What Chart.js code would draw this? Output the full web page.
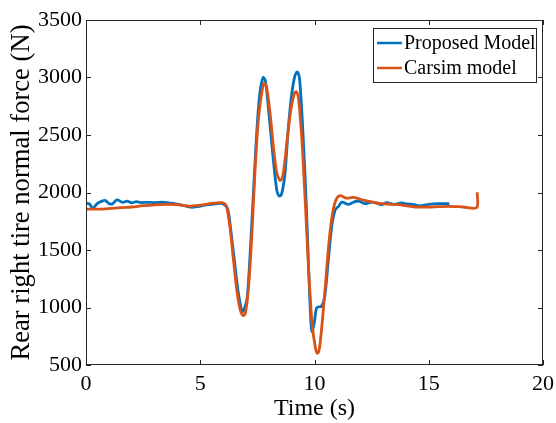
<!DOCTYPE html>
<html>
<head>
<meta charset="utf-8">
<script src="https://cdn.jsdelivr.net/npm/chart.js@4.4.1/dist/chart.umd.min.js"></script>
<style>
  html, body { margin: 0; padding: 0; background: #fff; }
  #wrap { width: 556px; height: 423px; }
</style>
</head>
<body>
<div id="wrap"><canvas id="graphique" width="556" height="423"></canvas></div>
<script>
// valeurs
var tempsProposed = [0, 0.15, 0.3, 0.5, 0.7, 0.85, 1.0, 1.15, 1.35, 1.6, 1.8, 2.0, 2.2, 2.4, 2.6, 3.0, 3.4, 3.8, 4.2, 4.6, 4.9, 5.2, 5.6, 5.9, 6.05, 6.2, 6.35, 6.5, 6.65, 6.8, 6.87, 6.95, 7.05, 7.15, 7.3, 7.45, 7.6, 7.75, 7.85, 8.0, 8.2, 8.35, 8.45, 8.55, 8.7, 8.85, 9.0, 9.15, 9.25, 9.35, 9.5, 9.65, 9.75, 9.85, 9.9, 10.0, 10.1, 10.3, 10.45, 10.6, 10.75, 10.9, 11.05, 11.2, 11.48, 11.7, 11.92, 12.2, 12.5, 12.75, 12.94, 13.15, 13.5, 13.8, 14.05, 14.3, 14.6, 14.8, 15.0, 15.4, 15.9];
var forceProposed = [1906, 1900, 1865, 1905, 1925, 1930, 1905, 1900, 1935, 1915, 1925, 1910, 1920, 1912, 1915, 1912, 1915, 1905, 1890, 1872, 1878, 1890, 1900, 1905, 1895, 1860, 1650, 1400, 1150, 985, 965, 1000, 1080, 1350, 1900, 2450, 2850, 3000, 2970, 2700, 2280, 2020, 1970, 1980, 2150, 2550, 2850, 3020, 3048, 2980, 2500, 1850, 1300, 850, 790, 880, 1000, 1010, 1100, 1400, 1700, 1846, 1880, 1917, 1897, 1915, 1926, 1903, 1917, 1905, 1894, 1911, 1897, 1909, 1900, 1897, 1883, 1890, 1897, 1903, 1903];

var tempsCarsim = [0, 0.5, 1.0, 1.5, 2.0, 2.5, 3.0, 3.5, 4.0, 4.5, 5.0, 5.5, 5.9, 6.05, 6.15, 6.3, 6.45, 6.6, 6.75, 6.87, 6.97, 7.1, 7.25, 7.4, 7.55, 7.7, 7.8, 7.9, 8.05, 8.2, 8.35, 8.5, 8.62, 8.8, 8.95, 9.1, 9.2, 9.3, 9.45, 9.6, 9.75, 9.9, 10.05, 10.13, 10.22, 10.35, 10.5, 10.65, 10.8, 10.95, 11.12, 11.4, 11.7, 12.2, 12.6, 12.94, 13.3, 13.7, 14.0, 14.4, 15.1, 15.85, 16.5, 17.1, 17.12];
var forceCarsim = [1855, 1855, 1860, 1868, 1874, 1885, 1893, 1897, 1895, 1882, 1890, 1905, 1912, 1905, 1880, 1700, 1420, 1150, 980, 930, 945, 1150, 1600, 2200, 2650, 2880, 2950, 2920, 2700, 2400, 2170, 2103, 2150, 2450, 2700, 2850, 2877, 2820, 2450, 1900, 1300, 850, 640, 602, 650, 900, 1250, 1600, 1830, 1940, 1972, 1951, 1957, 1931, 1915, 1903, 1898, 1894, 1885, 1874, 1874, 1880, 1874, 1869, 2002];

var ticksX = [0, 5, 10, 15, 20];
var ticksY = [500, 1000, 1500, 2000, 2500, 3000, 3500];
var nomsSeries = ['Proposed Model', 'Carsim model'];

function points(xs, ys) {
  return xs.map(function(x, i) { return { x: x, y: ys[i] }; });
}

var couleurAxe = '#262626';
var police = 'Liberation Serif, Times New Roman, serif';

// cadre, graduations vers l'intérieur et légende façon MATLAB
var cadreMatlab = {
  id: 'cadreMatlab',
  afterDatasetsDraw: function(chart) {
    var ctx = chart.ctx;
    var a = chart.chartArea;
    var sx = chart.scales.x, sy = chart.scales.y;
    ctx.save();
    ctx.strokeStyle = couleurAxe;
    ctx.lineWidth = 1;
    ctx.strokeRect(a.left + 0.5, a.top + 0.5, a.right - a.left - 1, a.bottom - a.top - 1);
    ctx.beginPath();
    ticksX.forEach(function(v) {
      var px = Math.round(sx.getPixelForValue(v)) + 0.5;
      ctx.moveTo(px, a.bottom); ctx.lineTo(px, a.bottom - 5);
      ctx.moveTo(px, a.top); ctx.lineTo(px, a.top + 5);
    });
    ticksY.forEach(function(v) {
      var py = Math.round(sy.getPixelForValue(v)) + 0.5;
      ctx.moveTo(a.left, py); ctx.lineTo(a.left + 5, py);
      ctx.moveTo(a.right, py); ctx.lineTo(a.right - 5, py);
    });
    ctx.stroke();

    // légende
    var bx = 373, by = 28, bw = 163, bh = 54;
    ctx.fillStyle = '#fff';
    ctx.fillRect(bx, by, bw, bh);
    ctx.strokeRect(bx + 0.5, by + 0.5, bw, bh);
    ctx.font = '20px ' + police;
    ctx.textBaseline = 'middle';
    chart.data.datasets.forEach(function(ds, i) {
      var yy = by + 15 + i * 25;
      ctx.strokeStyle = ds.borderColor;
      ctx.lineWidth = 2.5;
      ctx.beginPath();
      ctx.moveTo(bx + 4, yy); ctx.lineTo(bx + 29, yy);
      ctx.stroke();
      ctx.fillStyle = '#000';
      ctx.fillText(ds.label, bx + 31, yy + 1);
    });
    ctx.restore();
  }
};

var ctx = document.getElementById('graphique').getContext('2d');
var chart = new Chart(ctx, {
  type: 'scatter',
  data: {
    datasets: [{
      label: nomsSeries[0],
      data: points(tempsProposed, forceProposed),
      borderColor: '#0072BD',
      borderWidth: 2.8,
      showLine: true,
      pointRadius: 0,
      tension: 0.3,
      order: 1
    }, {
      label: nomsSeries[1],
      data: points(tempsCarsim, forceCarsim),
      borderColor: '#D95319',
      borderWidth: 2.8,
      showLine: true,
      pointRadius: 0,
      tension: 0.3,
      order: 0
    }]
  },
  options: {
    responsive: false,
    animation: false,
    layout: { padding: { top: 20, right: 13, left: 0, bottom: 0 } },
    plugins: { legend: { display: false }, tooltip: { enabled: false } },
    scales: {
      x: {
        type: 'linear',
        min: 0, max: 20,
        afterBuildTicks: function(s) { s.ticks = ticksX.map(function(v) { return { value: v }; }); },
        afterFit: function(s) { s.height = 58; s.paddingRight = 0; s.paddingLeft = 0; },
        grid: { display: false, drawTicks: false },
        border: { display: false },
        ticks: { color: '#000', font: { family: police, size: 22 }, padding: 6, maxRotation: 0,
          callback: function(v) { return String(v); } },
        title: { display: true, text: 'Time (s)', color: '#000', font: { family: police, size: 24 }, padding: { top: 0, bottom: 0 } }
      },
      y: {
        type: 'linear',
        min: 500, max: 3500,
        afterBuildTicks: function(s) { s.ticks = ticksY.map(function(v) { return { value: v }; }); },
        afterFit: function(s) { s.width = 86; s.paddingTop = 0; s.paddingBottom = 0; },
        grid: { display: false, drawTicks: false },
        border: { display: false },
        ticks: { color: '#000', font: { family: police, size: 22 }, padding: 4,
          callback: function(v) { return String(v); } },
        title: { display: true, text: 'Rear right tire normal force (N)', color: '#000', font: { family: police, size: 26.6 }, padding: { top: 6, bottom: 0 } }
      }
    }
  },
  plugins: [cadreMatlab]
});
</script>
</body>
</html>
